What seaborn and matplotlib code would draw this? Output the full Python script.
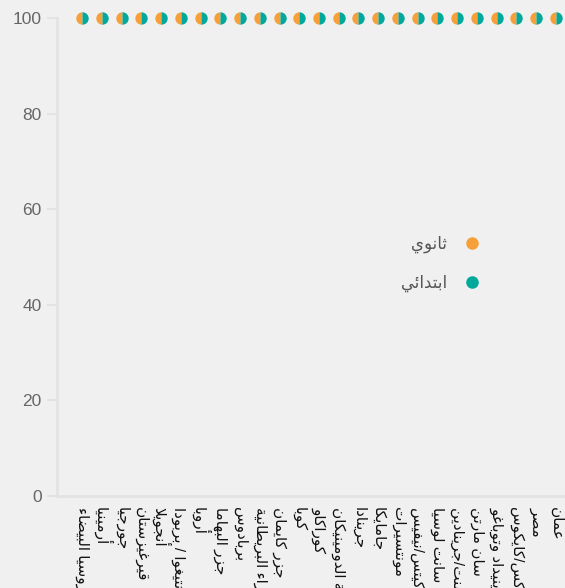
import numpy as np
import pandas as pd
import matplotlib
matplotlib.use("Agg")
import matplotlib.pyplot as plt
from matplotlib.path import Path
from matplotlib.transforms import Affine2D
from matplotlib.lines import Line2D
import seaborn as sns

# ── data ─────────────────────────────────────────────
countries = [
    "روسيا البيضاء", "أرمينيا", "جورجيا", "قيرغيزستان", "أنجويلا",
    "أنتيغوا / بربودا", "أروبا", "جزر البهاما", "بربادوس",
    "جزر العذراء البريطانية", "جزر كايمان", "كوبا", "كوراكاو",
    "جمهورية الدومينيكان", "جرينادا", "جامايكا", "مونتسيرات",
    "سانت كيتس/نيفيس", "سانت لوسيا", "سانت فنسنت/جرينادين", "سان مارتن",
    "ترينيداد وتوباغو", "تركس/كايكوس", "مصر", "عمان",
]
secondary = [100, 100, 100, 100, 100, 100, 100, 100, 100, 100, 100, 100, 100,
             100, 100, 100, 100, 100, 100, 100, 100, 100, 100, 100, 100]
primary = [100, 100, 100, 100, 100, 100, 100, 100, 100, 100, 100, 100, 100,
           100, 100, 100, 100, 100, 100, 100, 100, 100, 100, 100, 100]
series_names = ["ثانوي", "ابتدائي"]
y_ticks = [0, 20, 40, 60, 80, 100]

ORANGE = "#f7a03a"
TEAL = "#00a99b"
BG = "#f0f0f0"
AXIS = "#e3e3e3"
TXT = "#666666"

# ── minimal arabic shaping (matplotlib has no complex text layout) ──
_dual = {"ئ": 0xFE89, "ب": 0xFE8F, "ت": 0xFE95, "ث": 0xFE99, "ج": 0xFE9D,
         "ح": 0xFEA1, "خ": 0xFEA5, "س": 0xFEB1, "ش": 0xFEB5, "ص": 0xFEB9,
         "ض": 0xFEBD, "ط": 0xFEC1, "ظ": 0xFEC5, "ع": 0xFEC9, "غ": 0xFECD,
         "ف": 0xFED1, "ق": 0xFED5, "ك": 0xFED9, "ل": 0xFEDD, "م": 0xFEE1,
         "ن": 0xFEE5, "ه": 0xFEE9, "ي": 0xFEF1}
_right = {"آ": 0xFE81, "أ": 0xFE83, "ؤ": 0xFE85, "إ": 0xFE87, "ا": 0xFE8D,
          "ة": 0xFE93, "د": 0xFEA9, "ذ": 0xFEAB, "ر": 0xFEAD, "ز": 0xFEAF,
          "و": 0xFEED, "ى": 0xFEEF}
_lamalef = {"آ": 0xFEF5, "أ": 0xFEF7, "إ": 0xFEF9, "ا": 0xFEFB}


def shape(text):
    out = []
    i = 0
    n = len(text)
    while i < n:
        c = text[i]
        prev = text[i - 1] if i > 0 else ""
        joins_prev = prev in _dual
        if c == "ل" and i + 1 < n and text[i + 1] in _lamalef:
            out.append(chr(_lamalef[text[i + 1]] + (1 if joins_prev else 0)))
            i += 2
            continue
        nxt = text[i + 1] if i + 1 < n else ""
        if c in _dual:
            joins_next = nxt in _dual or nxt in _right
            base = _dual[c]
            if joins_prev and joins_next:
                out.append(chr(base + 3))
            elif joins_prev:
                out.append(chr(base + 1))
            elif joins_next:
                out.append(chr(base + 2))
            else:
                out.append(chr(base))
        elif c in _right:
            out.append(chr(_right[c] + (1 if joins_prev else 0)))
        elif c == "ء":
            out.append(chr(0xFE80))
        else:
            out.append(c)
        i += 1
    return "".join(out)[::-1]


# ── style ────────────────────────────────────────────
sns.set_theme(style="white")
plt.rcParams["font.family"] = ["Liberation Sans", "DejaVu Sans"]

fig = plt.figure(figsize=(5.65, 5.88), dpi=100, facecolor=BG)
ax = fig.add_axes([57 / 565, 92 / 588, 508 / 565, 478 / 588])
ax.set_facecolor(BG)

df = pd.DataFrame({"country": countries, "secondary": secondary, "primary": primary})

right_half = Path.unit_circle_righthalf()
left_half = Affine2D().rotate_deg(180).transform_path(right_half)

sns.scatterplot(data=df, x="country", y="secondary", marker=left_half,
                color=ORANGE, s=80, linewidth=0, ax=ax, clip_on=False, zorder=3)
sns.scatterplot(data=df, x="country", y="primary", marker=right_half,
                color=TEAL, s=80, linewidth=0, ax=ax, clip_on=False, zorder=3)

ax.set_xlim(-1.27, len(countries) - 1 + 0.46)
ax.set_ylim(0, 100)
ax.set_xlabel("")
ax.set_ylabel("")

ax.set_yticks(y_ticks)
ax.set_yticklabels([str(v) for v in y_ticks], fontsize=12.5, color=TXT)
ax.tick_params(axis="y", length=7, width=1.5, color=AXIS, pad=4, left=True)

ax.set_xticks(range(len(countries)))
ax.set_xticklabels([shape(c) for c in countries], rotation=-90, fontsize=11,
                   color="#111111", va="top", ha="center")
ax.tick_params(axis="x", length=0, pad=8)

for side in ["top", "right"]:
    ax.spines[side].set_visible(False)
for side in ["left", "bottom"]:
    ax.spines[side].set_color(AXIS)
    ax.spines[side].set_linewidth(2)

handles = [
    Line2D([], [], marker="o", linestyle="", markersize=8, color=ORANGE),
    Line2D([], [], marker="o", linestyle="", markersize=8, color=TEAL),
]
ax.legend(handles, [shape(s) for s in series_names], markerfirst=False,
          frameon=False, loc="center", bbox_to_anchor=(0.763, 0.485),
          labelspacing=1.3, handletextpad=0.5, fontsize=12,
          labelcolor="#555555")

fig.savefig("out.png", dpi=100, facecolor=BG)
